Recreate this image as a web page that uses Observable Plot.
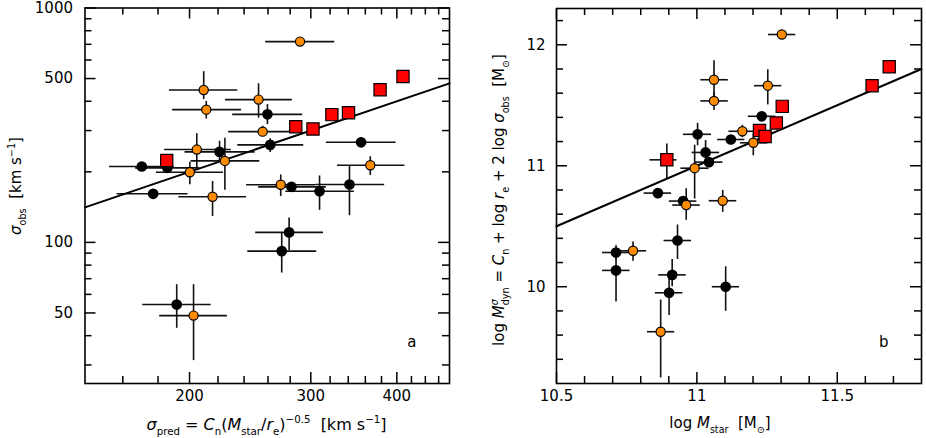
<!DOCTYPE html>
<html><head><meta charset="utf-8">
<script src="https://cdn.jsdelivr.net/npm/d3@7"></script>
<script src="https://cdn.jsdelivr.net/npm/@observablehq/plot@0.6"></script>
<style>
body{margin:0;background:#fff;}
#wrap{display:flex;width:926px;height:438px;}
#wrap svg{font-family:"DejaVu Sans",sans-serif;overflow:visible;}
</style></head><body><div id="wrap"></div>
<script>
// ---------- Panel a : sigma_pred (x) vs sigma_obs (y) [km/s] ----------
const aBlackX   = [259.5, 261.9, 354.9, 170.5, 185.7, 221.1, 177.1, 281.2, 308.9, 341.4, 279.0, 272.2, 191.6];
const aBlackY   = [351.8, 260.6, 267.3, 210.7, 208.0, 243.3, 161.2, 172.6, 165.3, 176.6, 110.3, 91.8, 54.3];
const aBlackXlo = [231, 235, 316, 153, 167, 197, 157, 252, 276, 305, 249.5, 243, 171];
const aBlackXhi = [292, 293, 399, 190, 207, 249, 199, 316, 347, 384, 313, 306, 215];
const aBlackYlo = [318, 242, null, null, null, 222, null, 166, 137, 130, 92, 74, 43];
const aBlackYhi = [387, 277, null, null, null, 270, null, 180, 192, 211, 127, 110, 66];

const aOrangeX   = [289.4, 209.7, 211.5, 251.9, 255.4, 366.0, 204.9, 225.1, 200.2, 216.0, 271.3, 202.7];
const aOrangeY   = [719, 446.7, 368.4, 406.6, 296.8, 213.4, 248.9, 222.7, 199.2, 156.5, 176.1, 48.7];
const aOrangeXlo = [258, 187, 189, 225.5, 228, 328, 184, 201, 179, 193, 242, 181];
const aOrangeXhi = [325, 235, 238, 282, 286, 411, 230, 253, 224, 242, 305, 227];
const aOrangeYlo = [null, 407, 336, 339, 285, 193, 208, 167, 176, 129, 157, 31.3];
const aOrangeYhi = [null, 535, 399, 475, 313, 232, 291, 278, 220, 182, 194, 66];

const aRedX = [185.3, 285.3, 302.2, 321.9, 340.3, 378.2, 408.3];
const aRedY = [223.4, 311.7, 304.8, 350.8, 357.6, 448.1, 510.5];

const aXDomain = [141, 477];
const aYDomain = [25, 1000];
const aXMajor = [200, 300, 400];
const aXMinor = [160, 180, 220, 240, 260, 280, 320, 340, 360, 380, 420, 440, 460];
const aYMajor = [50, 100, 500, 1000];
const aYMinor = [30, 40, 60, 70, 80, 90, 200, 300, 400, 600, 700, 800, 900];
const aXLabels = ["200", "300", "400"];
const aYLabels = ["50", "100", "500", "1000"];

// ---------- Panel b : log M_star (x) vs log M_dyn (y) ----------
const bBlackX   = [11.231, 11.121, 11.0025, 11.031, 11.043, 10.861, 10.951, 10.931, 10.712, 10.712, 10.912, 10.901, 11.1025];
const bBlackY   = [11.409, 11.217, 11.26, 11.11, 11.03, 10.774, 10.708, 10.382, 10.283, 10.135, 10.098, 9.95, 10.0];
const bBlackXlo = [11.183, 11.074, 10.952, 10.983, 10.993, 10.812, 10.902, 10.883, 10.664, 10.664, 10.864, 10.852, 11.055];
const bBlackXhi = [11.281, 11.171, 11.052, 11.081, 11.093, 10.91, 11.0, 10.981, 10.762, 10.762, 10.962, 10.95, 11.152];
const bBlackYlo = [null, null, 11.165, 11.016, null, 10.736, 10.68, 10.225, 10.22, 9.874, 10.0, 9.763, 9.797];
const bBlackYhi = [null, null, 11.351, 11.209, null, 10.81, 10.74, 10.51, 10.34, 10.275, 10.225, 10.077, 10.165];

const bOrangeX   = [11.3025, 11.061, 11.061, 11.2525, 11.162, 11.201, 10.992, 10.962, 11.092, 10.7725, 10.871];
const bOrangeY   = [12.085, 11.711, 11.536, 11.662, 11.285, 11.19, 10.98, 10.675, 10.711, 10.297, 9.628];
const bOrangeXlo = [11.255, 11.014, 11.014, 11.205, 11.114, 11.155, 10.943, 10.914, 11.044, 10.724, 10.824];
const bOrangeXhi = [11.352, 11.112, 11.112, 11.3025, 11.212, 11.2525, 11.043, 11.012, 11.142, 10.821, 10.921];
const bOrangeYlo = [null, 11.552, 11.456, 11.503, 11.231, 11.082, 10.725, 10.549, 10.615, 10.21, 9.246];
const bOrangeYhi = [null, 11.868, 11.607, 11.794, 11.335, 11.264, 11.17, 10.81, 10.796, 10.37, 9.89];

const bRedX   = [10.893, 11.223, 11.243, 11.283, 11.304, 11.624, 11.685];
const bRedY   = [11.049, 11.291, 11.242, 11.354, 11.491, 11.662, 11.819];
const bRedXlo = [10.833, null, null, null, null, null, null];
const bRedXhi = [10.929, null, null, null, null, null, null];
const bRedYlo = [10.893, null, null, null, null, null, null];
const bRedYhi = [11.18, null, null, null, null, null, null];

const bXDomain = [10.5, 11.8];
const bYDomain = [9.2, 12.3];
const bXMajor = [10.5, 11, 11.5];
const bXMinor = [10.6, 10.7, 10.8, 10.9, 11.1, 11.2, 11.3, 11.4, 11.6, 11.7];
const bYMajor = [10, 11, 12];
const bYMinor = [9.4, 9.6, 9.8, 10.2, 10.4, 10.6, 10.8, 11.2, 11.4, 11.6, 11.8, 12.2];
const bXLabels = ["10.5", "11", "11.5"];
const bYLabels = ["10", "11", "12"];

// ---------- helpers ----------
const ORANGE = "#ff8c00", RED = "#ff0000";
function rows(x, y, xlo, xhi, ylo, yhi) {
  return x.map((v, i) => ({x: v, y: y[i],
    xlo: xlo ? xlo[i] : null, xhi: xhi ? xhi[i] : null,
    ylo: ylo ? ylo[i] : null, yhi: yhi ? yhi[i] : null}));
}
function errMarks(data) {
  return [
    Plot.ruleY(data.filter(d => d.xlo != null), {y: "y", x1: "xlo", x2: "xhi", stroke: "#111", strokeWidth: 1.6}),
    Plot.ruleX(data.filter(d => d.ylo != null), {x: "x", y1: "ylo", y2: "yhi", stroke: "#111", strokeWidth: 1.6})
  ];
}
function frameTicks(xMaj, xMin, yMaj, yMin, innerW, innerH) {
  const M = 11, m = 7, sw = 1.5;
  return [
    Plot.ruleX(xMaj, {x: d => d, insetTop: innerH - M, strokeWidth: sw}),
    Plot.ruleX(xMaj, {x: d => d, insetBottom: innerH - M, strokeWidth: sw}),
    Plot.ruleX(xMin, {x: d => d, insetTop: innerH - m, strokeWidth: sw}),
    Plot.ruleX(xMin, {x: d => d, insetBottom: innerH - m, strokeWidth: sw}),
    Plot.ruleY(yMaj, {y: d => d, insetRight: innerW - M, strokeWidth: sw}),
    Plot.ruleY(yMaj, {y: d => d, insetLeft: innerW - M, strokeWidth: sw}),
    Plot.ruleY(yMin, {y: d => d, insetRight: innerW - m, strokeWidth: sw}),
    Plot.ruleY(yMin, {y: d => d, insetLeft: innerW - m, strokeWidth: sw})
  ];
}
function richText(svg, parts, {x, y, rotate = 0, size = 15}) {
  const t = d3.select(svg).append("text")
    .attr("text-anchor", "middle").attr("font-size", size).attr("fill", "black")
    .style("white-space", "pre")
    .attr("transform", `translate(${x},${y}) rotate(${rotate})`);
  let shift = 0;
  for (const p of parts) {
    const target = p.sub ? size * 0.3 : p.sup ? -size * 0.42 : 0;
    const ts = t.append("tspan").text(p.t).attr("dy", target - shift);
    if (p.sub || p.sup) ts.attr("font-size", size * 0.64);
    if (p.it) ts.attr("font-style", "italic");
    if (p.dx != null) ts.attr("dx", p.dx);
    shift = target;
  }
}

function panel(cfg) {
  const W = 463, H = 438;
  const innerW = W - cfg.ml - cfg.mr, innerH = H - cfg.mt - cfg.mb;
  const black = rows(...cfg.black), orange = rows(...cfg.orange), red = rows(...cfg.red);
  return Plot.plot({
    width: W, height: H,
    marginLeft: cfg.ml, marginRight: cfg.mr, marginTop: cfg.mt, marginBottom: cfg.mb,
    style: {background: "white", fontFamily: "DejaVu Sans, sans-serif"},
    x: {type: cfg.type, domain: cfg.xDomain, axis: null},
    y: {type: cfg.type, domain: cfg.yDomain, axis: null},
    marks: [
      ...errMarks(black), ...errMarks(orange), ...errMarks(red),
      Plot.line(cfg.xDomain, {x: d => d, y: d => d, stroke: "black", strokeWidth: 2}),
      Plot.dot(black, {x: "x", y: "y", r: 4.6, fill: "black", stroke: "black"}),
      Plot.dot(orange, {x: "x", y: "y", r: 4.6, fill: ORANGE, stroke: "black", strokeWidth: 1.2}),
      Plot.dot(red, {x: "x", y: "y", r: 6.9, symbol: "square", fill: RED, stroke: "black", strokeWidth: 1.2}),
      ...frameTicks(cfg.xMaj, cfg.xMin, cfg.yMaj, cfg.yMin, innerW, innerH),
      Plot.frame({stroke: "black", strokeWidth: 1.6}),
      Plot.text(cfg.xMaj, {x: d => d, frameAnchor: "bottom", dy: 17, text: (d, i) => cfg.xLab[i], fontSize: 15}),
      Plot.text(cfg.yMaj, {y: d => d, frameAnchor: "left", dx: cfg.ydx, textAnchor: "end", text: (d, i) => cfg.yLab[i], fontSize: 15}),
      Plot.text([cfg.tag], {frameAnchor: "bottom-right", dx: -33, dy: -37, text: d => d, fontSize: 15})
    ]
  });
}

const wrap = document.getElementById("wrap");
const svgA = panel({
  type: "log", ml: 84.5, mr: 14, mt: 7.5, mb: 55,
  xDomain: aXDomain, yDomain: aYDomain,
  black: [aBlackX, aBlackY, aBlackXlo, aBlackXhi, aBlackYlo, aBlackYhi],
  orange: [aOrangeX, aOrangeY, aOrangeXlo, aOrangeXhi, aOrangeYlo, aOrangeYhi],
  red: [aRedX, aRedY],
  xMaj: aXMajor, xMin: aXMinor, yMaj: aYMajor, yMin: aYMinor,
  xLab: aXLabels, yLab: aYLabels, ydx: -12, tag: "a"
});
const svgB = panel({
  type: "linear", ml: 93, mr: 5, mt: 8, mb: 55,
  xDomain: bXDomain, yDomain: bYDomain,
  black: [bBlackX, bBlackY, bBlackXlo, bBlackXhi, bBlackYlo, bBlackYhi],
  orange: [bOrangeX, bOrangeY, bOrangeXlo, bOrangeXhi, bOrangeYlo, bOrangeYhi],
  red: [bRedX, bRedY, bRedXlo, bRedXhi, bRedYlo, bRedYhi],
  xMaj: bXMajor, xMin: bXMinor, yMaj: bYMajor, yMin: bYMinor,
  xLab: bXLabels, yLab: bYLabels, ydx: -11, tag: "b"
});
wrap.append(svgA, svgB);

// axis titles
richText(svgA, [
  {t: "σ", it: true}, {t: "pred", sub: true}, {t: " = "}, {t: "C", it: true}, {t: "n", sub: true},
  {t: "("}, {t: "M", it: true}, {t: "star", sub: true}, {t: "/"}, {t: "r", it: true}, {t: "e", sub: true},
  {t: ")"}, {t: "−0.5", sup: true}, {t: "  [km s"}, {t: "−1", sup: true}, {t: "]"}
], {x: 266.5, y: 430, size: 16});
richText(svgA, [
  {t: "σ", it: true}, {t: "obs", sub: true}, {t: "  [km s"}, {t: "−1", sup: true}, {t: "]"}
], {x: 21, y: 186, rotate: -90});
richText(svgB, [
  {t: "log "}, {t: "M", it: true}, {t: "star", sub: true}, {t: "  [M"}, {t: "⊙", sub: true}, {t: "]"}
], {x: 257, y: 428});
richText(svgB, [
  {t: "log "}, {t: "M", it: true}, {t: "σ", sup: true, it: true}, {t: "dyn", sub: true, dx: -6},
  {t: " = "}, {t: "C", it: true}, {t: "n", sub: true}, {t: " + log "}, {t: "r", it: true}, {t: "e", sub: true},
  {t: " + 2 log "}, {t: "σ", it: true}, {t: "obs", sub: true}, {t: "  [M"}, {t: "⊙", sub: true}, {t: "]"}
], {x: 41, y: 200, rotate: -90});
</script>
</body></html>
